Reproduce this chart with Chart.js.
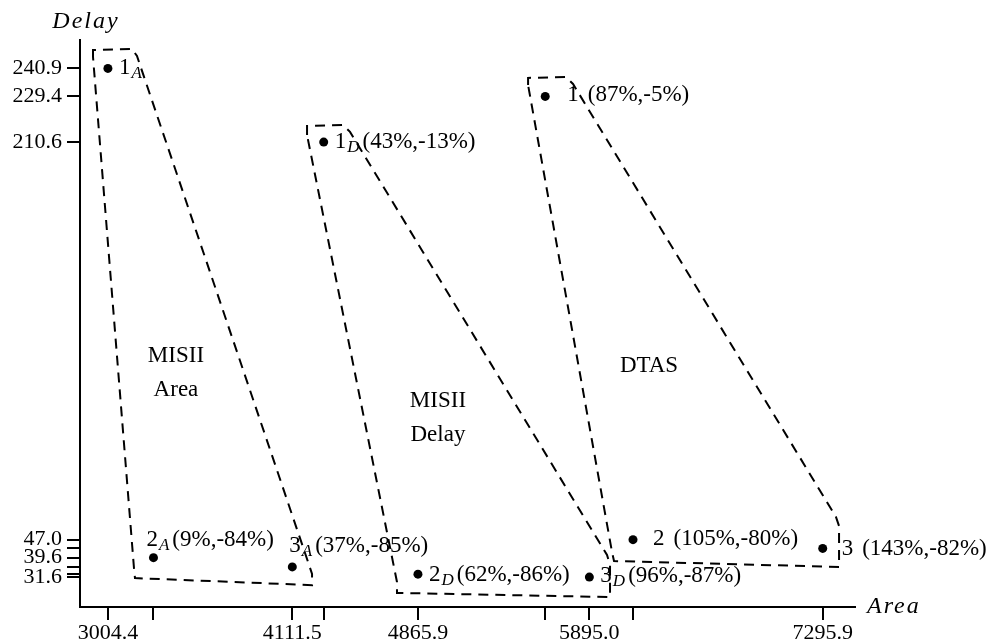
<!DOCTYPE html>
<html>
<head>
<meta charset="utf-8">
<title>Area / Delay</title>
<script src="https://cdn.jsdelivr.net/npm/chart.js@4.4.1/dist/chart.umd.min.js"></script>
<style>
  html, body { margin: 0; padding: 0; background: #fff; }
  canvas { display: block; }
</style>
</head>
<body>
<canvas id="c" width="990" height="644"></canvas>
<script>
// ---- data ----
const pointMain  = ['1', '2', '3', '1', '2', '3', '1', '2', '3'];
const pointSub   = ['A', 'A', 'A', 'D', 'D', 'D', '', '', ''];
const pointNotes = ['', '(9%,-84%)', '(37%,-85%)', '(43%,-13%)', '(62%,-86%)', '(96%,-87%)', '(87%,-5%)', '(105%,-80%)', '(143%,-82%)'];
const areaValues  = [3004.4, 3278, 4111.5, 4300, 4865.9, 5895.0, 5630, 6157, 7295.9];
const delayValues = [240.9, 39.6, 35.8, 210.6, 32.8, 31.6, 229.4, 47.0, 43.4];

// tick labels that are printed (every point still gets a tick mark)
const xTickLabels = [3004.4, 4111.5, 4865.9, 5895.0, 7295.9];
const yTickLabels = [240.9, 229.4, 210.6, 47.0, 39.6, 31.6];

// dashed boundaries round each group (area, delay)
const misiiAreaX  = [2915, 2915, 3149, 3179, 4212, 4230, 4230, 3167, 3161, 2915];
const misiiAreaY  = [245.6, 248.5, 248.9, 246.0, 36.6, 32.9, 28.3, 31.2, 35.3, 245.6];
const misiiDelayX = [4200, 4200, 4416, 4458, 6001, 6019, 6019, 4740, 4740, 4200];
const misiiDelayY = [213.5, 217.2, 217.6, 214.8, 40.7, 36.6, 23.4, 25.1, 29.6, 213.5];
const dtasX       = [5527, 5527, 5755, 5797, 7376, 7394, 7394, 6043, 6031, 5527];
const dtasY       = [234.1, 237.0, 237.4, 234.5, 56.3, 52.6, 35.8, 38.2, 41.9, 234.1];

const groupNames  = [['MISII', 'Area'], ['MISII', 'Delay'], ['DTAS']];
const groupAreaAt  = [3413, 4986, 6253];
const groupDelayAt = [120.1, 101.6, 116.0];

// ---- style ----
// label placement relative to the dot, px: [dx, dy of baseline]
const labelOffsets = [[11, 6], [-7, -12], [-3, -15], [11, 6], [11, 7], [11, 5], [22, 5], [20, 5], [19, 7]];
const SERIF = '"Liberation Serif", "Times New Roman", serif';

const pts = (xs, ys) => xs.map((x, i) => ({ x, y: ys[i] }));
const boundary = (xs, ys) => ({
  data: pts(xs, ys), showLine: true, fill: false, tension: 0,
  borderColor: '#000', borderWidth: 2, borderDash: [10, 7],
  pointRadius: 0, pointHoverRadius: 0
});

const labels = {
  id: 'labels',
  afterDatasetsDraw(chart) {
    const { ctx, chartArea: a, scales: { x, y } } = chart;
    ctx.save();
    ctx.fillStyle = '#000';
    ctx.textBaseline = 'alphabetic';

    // point names
    areaValues.forEach((v, i) => {
      const px = x.getPixelForValue(v) + labelOffsets[i][0];
      const py = y.getPixelForValue(delayValues[i]) + labelOffsets[i][1];
      ctx.textAlign = 'left';
      ctx.font = '23px ' + SERIF;
      ctx.fillText(pointMain[i], px, py);
      let cx = px + ctx.measureText(pointMain[i]).width;
      if (pointSub[i]) {
        ctx.font = 'italic 17px ' + SERIF;
        ctx.fillText(pointSub[i], cx + 1, py + 4);
        cx += 1 + ctx.measureText(pointSub[i]).width + 3;
      } else {
        cx += 9;
      }
      ctx.font = '23px ' + SERIF;
      ctx.fillText(pointNotes[i], cx, py);
    });

    // group names
    ctx.textAlign = 'center';
    ctx.font = '23px ' + SERIF;
    groupNames.forEach((lines, g) => {
      const gx = x.getPixelForValue(groupAreaAt[g]);
      const gy = y.getPixelForValue(groupDelayAt[g]);
      lines.forEach((t, k) => ctx.fillText(t, gx, gy + k * 34));
    });

    // axis titles
    ctx.font = 'italic 24px ' + SERIF;
    ctx.letterSpacing = '2px';
    ctx.fillText('Delay', a.left + 6, a.top - 12);
    ctx.textAlign = 'left';
    ctx.fillText('Area', a.right + 12, a.bottom + 6);
    ctx.restore();
  }
};

const axisCommon = {
  type: 'linear',
  grid: { drawOnChartArea: false, drawTicks: true, tickLength: 13, color: '#000', lineWidth: 2 },
  border: { display: true, color: '#000', width: 2 },
};

new Chart(document.getElementById('c'), {
  type: 'scatter',
  data: {
    datasets: [
      boundary(misiiAreaX, misiiAreaY),
      boundary(misiiDelayX, misiiDelayY),
      boundary(dtasX, dtasY),
      {
        data: pts(areaValues, delayValues),
        pointRadius: 4.5, pointHoverRadius: 4.5,
        pointBackgroundColor: '#000', pointBorderWidth: 0, showLine: false
      }
    ]
  },
  options: {
    responsive: false, animation: false, devicePixelRatio: 1,
    layout: { padding: { left: 0, right: 135, top: 40, bottom: 0 } },
    plugins: { legend: { display: false }, tooltip: { enabled: false } },
    scales: {
      x: {
        ...axisCommon,
        min: 2836.9, max: 7489.8,
        afterBuildTicks: s => { s.ticks = areaValues.slice().sort((p, q) => p - q).map(v => ({ value: v })); },
        afterFit: s => { s.height = 37; },
        ticks: {
          autoSkip: false, maxRotation: 0, padding: 2, color: '#000',
          font: { family: SERIF, size: 22, lineHeight: 1 },
          callback: v => xTickLabels.includes(v) ? v.toFixed(1) : ''
        }
      },
      y: {
        ...axisCommon,
        min: 19.3, max: 252.6,
        afterBuildTicks: s => { s.ticks = delayValues.slice().sort((p, q) => p - q).map(v => ({ value: v })); },
        afterFit: s => { s.width = 80; },
        ticks: {
          autoSkip: false, padding: 5, color: '#000',
          font: { family: SERIF, size: 22 },
          callback: v => yTickLabels.includes(v) ? v.toFixed(1) : ''
        }
      }
    }
  },
  plugins: [labels]
});
</script>
</body>
</html>
